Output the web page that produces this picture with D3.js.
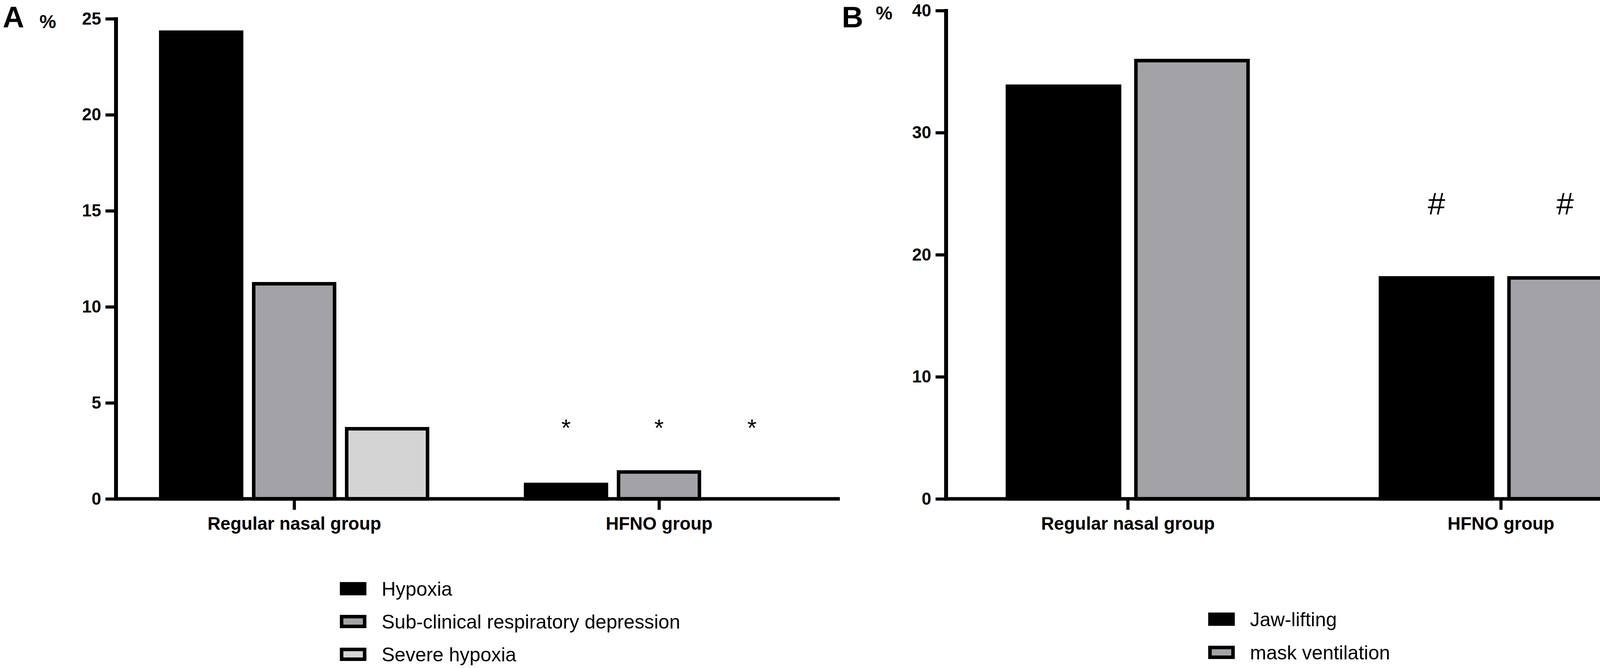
<!DOCTYPE html>
<html>
<head>
<meta charset="utf-8">
<script src="https://cdn.jsdelivr.net/npm/d3@7/dist/d3.min.js"></script>
<style>
  html, body { margin: 0; padding: 0; background: #fff; }
  svg { display: block; font-family: "Liberation Sans", Arial, sans-serif; }
</style>
</head>
<body>
<svg id="chart" width="4317" height="1710"></svg>
<script>
// ---------- DATA ----------
const groups = ["Regular nasal group", "HFNO group"];

const seriesA = ["Hypoxia", "Sub-clinical respiratory depression", "Severe hypoxia"];
const regularA = [24.3, 11.2, 3.65];
const hfnoA = [0.75, 1.4, 0];
const marksA = ["", "", "", "*", "*", "*"];        // regular x3, HFNO x3
const ticksA = [0, 5, 10, 15, 20, 25];

const seriesB = ["Jaw-lifting", "mask ventilation"];
const regularB = [33.8, 35.9];
const hfnoB = [18.1, 18.1];
const marksB = ["", "", "#", "#"];                  // regular x2, HFNO x2
const ticksB = [0, 10, 20, 30, 40];

const fillsA = ["#000000", "#a3a2a6", "#d4d4d4"];
const fillsB = ["#000000", "#a3a2a6"];

// ---------- HELPERS ----------
const svg = d3.select("#chart");
const BAR_STROKE = 9;

function panel(cfg) {
  const g = svg.append("g");
  const y = d3.scaleLinear().domain(cfg.yDomain).range([cfg.bottom, cfg.top]);
  const x0 = d3.scalePoint().domain(groups).range(cfg.groupRange).padding(0.5);
  const x1 = d3.scaleBand().domain(cfg.series).range(cfg.innerRange).paddingInner(cfg.innerPad);

  const rows = [];
  groups.forEach((grp, gi) => {
    cfg.values[gi].forEach((v, si) => {
      rows.push({grp, series: cfg.series[si], si, v, mark: cfg.marks[gi * cfg.series.length + si]});
    });
  });

  // bars
  g.selectAll("rect.bar").data(rows.filter(d => d.v > 0)).join("rect")
    .attr("class", "bar")
    .attr("x", d => x0(d.grp) + x1(d.series) + BAR_STROKE / 2)
    .attr("width", x1.bandwidth() - BAR_STROKE)
    .attr("y", d => y(d.v))
    .attr("height", d => y(0) - y(d.v))
    .attr("fill", d => cfg.fills[d.si])
    .attr("stroke", "#000")
    .attr("stroke-width", BAR_STROKE);

  // significance marks
  g.selectAll("text.mark").data(rows.filter(d => d.mark)).join("text")
    .attr("class", "mark")
    .attr("x", d => x0(d.grp) + x1(d.series) + x1.bandwidth() / 2)
    .attr("y", y(cfg.markValue) + cfg.markFont * cfg.markShift)
    .attr("text-anchor", "middle")
    .attr("font-size", cfg.markFont)
    .attr("fill", "#000")
    .text(d => d.mark);

  // y axis
  const yAxis = d3.axisLeft(y).tickValues(cfg.ticks).tickSize(27).tickPadding(11).tickSizeOuter(0);
  const ya = g.append("g").attr("transform", `translate(${cfg.left},0)`).call(yAxis);
  ya.select(".domain").remove();
  ya.selectAll(".tick line").attr("stroke", "#000").attr("stroke-width", 8);
  ya.selectAll(".tick text").attr("font-size", 44).attr("font-weight", "bold")
    .attr("fill", "#000").attr("font-family", "Liberation Sans, Arial, sans-serif");
  g.append("line")
    .attr("x1", cfg.left).attr("x2", cfg.left)
    .attr("y1", y(cfg.yDomain[1]) - 4).attr("y2", y(0) + 4.5)
    .attr("stroke", "#000").attr("stroke-width", 10);

  // x axis
  const xAxis = d3.axisBottom(x0).tickSize(28).tickPadding(18).tickSizeOuter(0);
  const xa = g.append("g").attr("transform", `translate(0,${y(0)})`).call(xAxis);
  xa.select(".domain").remove();
  xa.selectAll(".tick line").attr("stroke", "#000").attr("stroke-width", 8);
  xa.selectAll(".tick text").attr("font-size", 46).attr("font-weight", "bold")
    .attr("fill", "#000").attr("font-family", "Liberation Sans, Arial, sans-serif");
  g.append("line")
    .attr("x1", cfg.left).attr("x2", cfg.right)
    .attr("y1", y(0)).attr("y2", y(0))
    .attr("stroke", "#000").attr("stroke-width", 9);

  // panel letter and unit
  g.append("text").attr("x", cfg.letterX).attr("y", cfg.letterY)
    .attr("font-size", 76).attr("font-weight", "bold").text(cfg.letter);
  g.append("text").attr("x", cfg.pctX).attr("y", cfg.pctY)
    .attr("font-size", 48).attr("font-weight", "bold").text("%");

  // legend
  const lg = g.append("g");
  cfg.series.forEach((s, i) => {
    const cy = cfg.legendY + i * cfg.legendStep;
    lg.append("rect")
      .attr("x", cfg.legendX + 4.5).attr("y", cy - 17 + 4.5)
      .attr("width", 68 - 9).attr("height", 34 - 9)
      .attr("fill", cfg.fills[i]).attr("stroke", "#000").attr("stroke-width", 9);
    lg.append("text")
      .attr("x", cfg.legendX + 107).attr("y", cy + 18)
      .attr("font-size", 50).attr("fill", "#000").text(s);
  });
}

panel({
  series: seriesA, values: [regularA, hfnoA], marks: marksA, fills: fillsA, ticks: ticksA,
  yDomain: [0, 25], top: 48, bottom: 1277,
  left: 297, right: 2150, groupRange: [286, 2154],
  innerRange: [-346, 346], innerPad: 22 / 238,
  markValue: 4, markFont: 62, markShift: 0.57,
  letter: "A", letterX: 7, letterY: 70, pctX: 101, pctY: 72,
  legendX: 870, legendY: 1507, legendStep: 84
});

panel({
  series: seriesB, values: [regularB, hfnoB], marks: marksB, fills: fillsB, ticks: ticksB,
  yDomain: [0, 40], top: 27, bottom: 1277,
  left: 2422, right: 4310, groupRange: [2409.5, 4319.5],
  innerRange: [-312.5, 312.5], innerPad: 0.1,
  markValue: 24.2, markFont: 80, markShift: 0.35,
  letter: "B", letterX: 2155, letterY: 70, pctX: 2242, pctY: 50,
  legendX: 3093, legendY: 1585, legendStep: 85
});
</script>
</body>
</html>
